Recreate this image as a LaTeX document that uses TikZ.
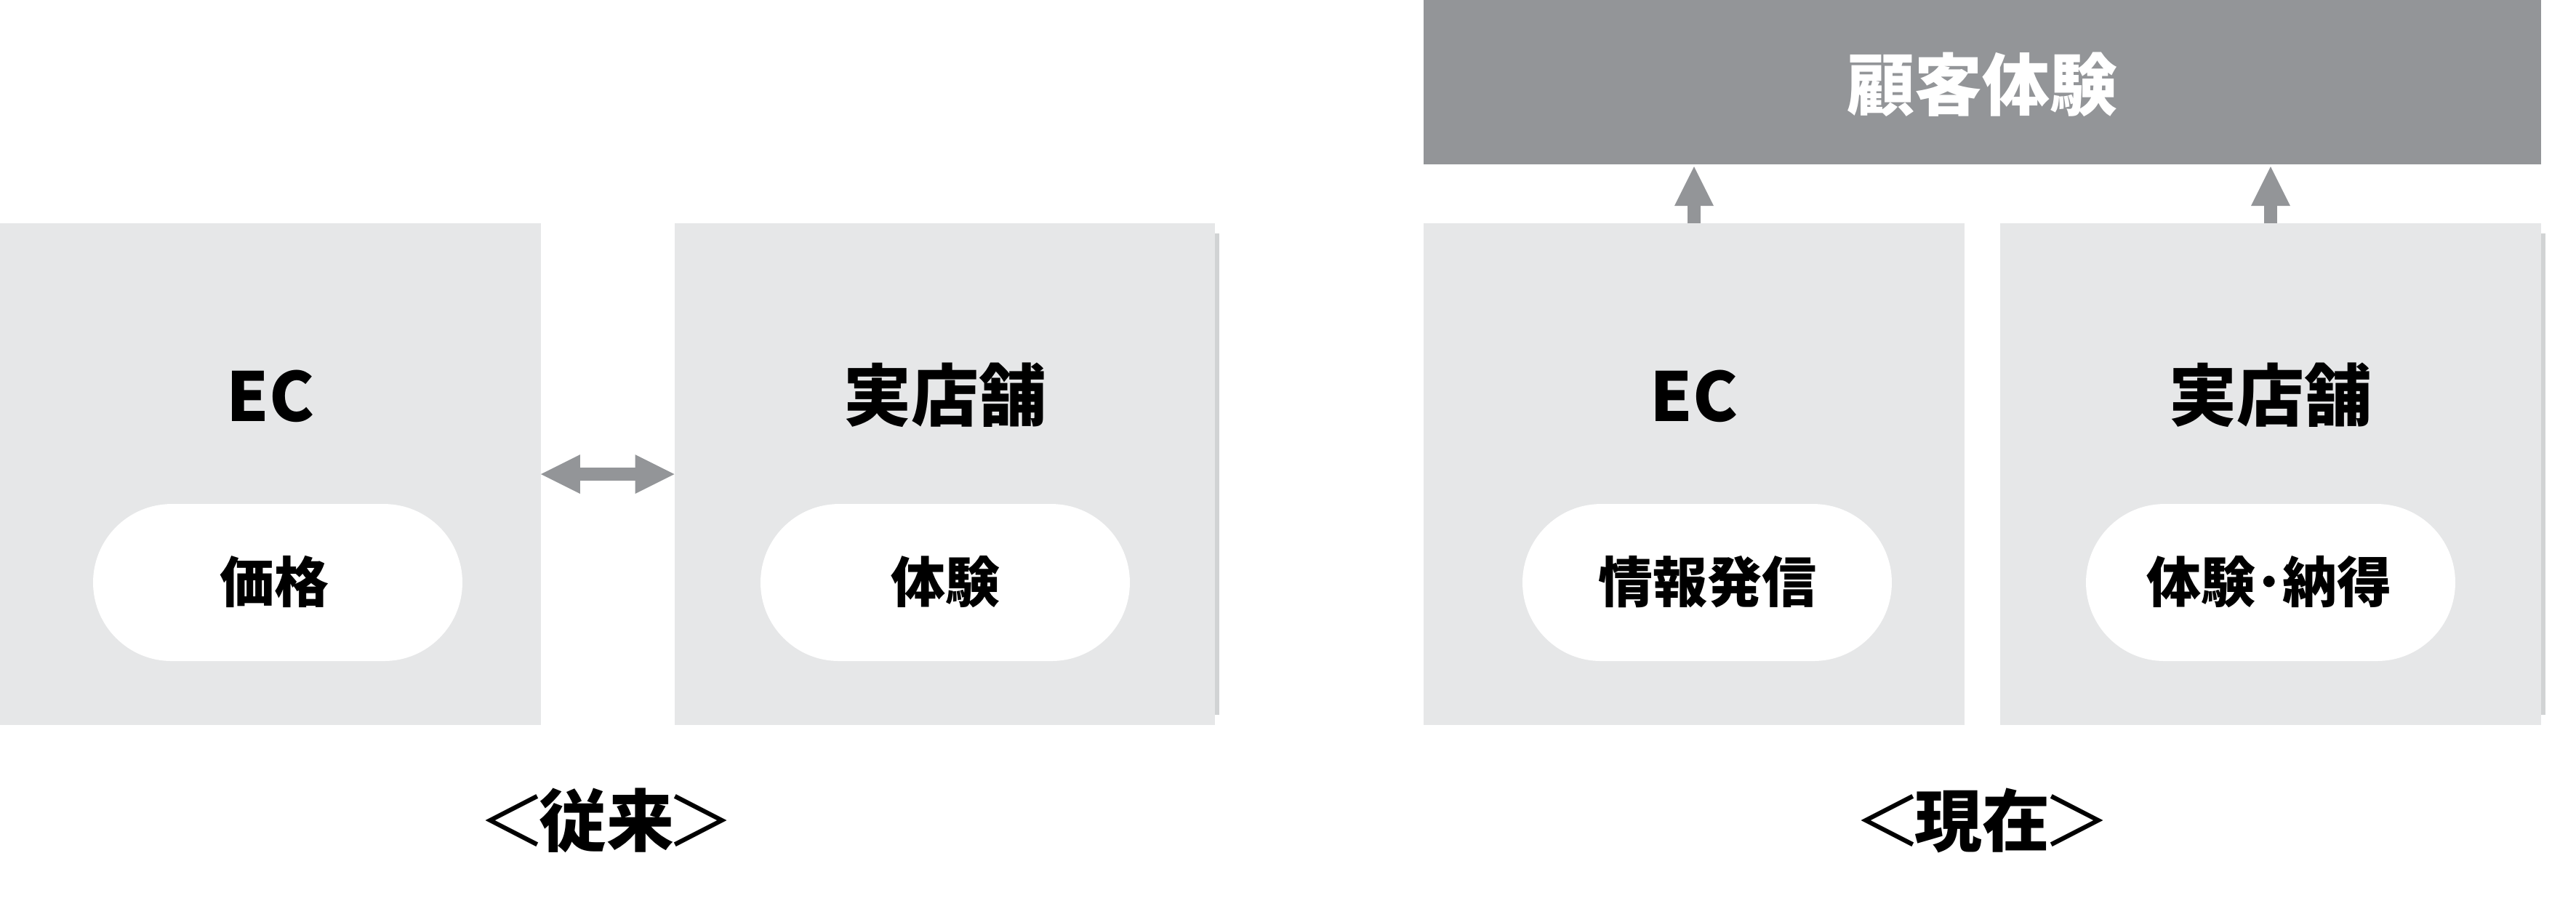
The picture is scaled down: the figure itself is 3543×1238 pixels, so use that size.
\documentclass[tikz,border=0pt]{standalone}
\usepackage{fontspec}
\setmainfont{Noto Sans CJK JP}
\usetikzlibrary{arrows.meta}
\definecolor{panelgray}{HTML}{E6E7E8}
\definecolor{accentgray}{HTML}{939598}
\definecolor{edgegray}{HTML}{D1D3D4}
\newcommand{\lbrk}{{\mdseries ＜}\kern-1.0pt}
\newcommand{\rbrk}{\kern-1.0pt{\mdseries ＞}}
\begin{document}
\begin{tikzpicture}[x=0.1pt,y=-0.1pt,
  panel/.style={fill=panelgray, draw=none, minimum width=74.4pt, minimum height=69pt, inner sep=0pt, outer sep=0pt},
  header/.style={fill=accentgray, draw=none, minimum width=153.7pt, minimum height=22.6pt, inner sep=0pt, outer sep=0pt},
  pill/.style={fill=white, draw=none, minimum width=50.8pt, minimum height=21.6pt, rounded corners=10.8pt, inner sep=0pt, outer sep=0pt},
  headtxt/.style={anchor=base, inner sep=0pt, font=\bfseries\fontsize{9.3pt}{11pt}\selectfont},
  pilltxt/.style={anchor=base, inner sep=0pt, font=\bfseries\fontsize{7.5pt}{9pt}\selectfont},
  captxt/.style={anchor=base, inner sep=0pt, font=\bfseries\fontsize{9.3pt}{11pt}\selectfont},
  conn/.style={draw=accentgray, line width=1.8pt, line cap=butt},
  tipb/.style={-{Triangle[length=5.4pt,width=5.4pt,line width=0pt]}},
]
\useasboundingbox (0,0) rectangle (3543,1238);

% ---------- left group (従来) ----------
\fill[edgegray] (1671,321) rectangle (1677,983);
\node[panel] (ecA) at (372,652) {};
\node[panel] (storeA) at (1299.5,652) {};
\node[headtxt] (ecAt) at (372,579) {EC};
\node[headtxt] (storeAt) at (1299.5,578) {実店舗};
\node[pill] (ecAp) at (382,801) {};
\node[pill] (storeAp) at (1300,801) {};
\node[pilltxt] (ecApt) at (377,828) {価格};
\node[pilltxt] (storeApt) at (1300,828) {体験};
\draw[conn, {Triangle[length=5.4pt,width=5.4pt,line width=0pt]}-{Triangle[length=5.4pt,width=5.4pt,line width=0pt]}] (ecA.east) -- (storeA.west);
\node[captxt] (capA) at (834,1163) {\lbrk 従来\rbrk};

% ---------- right group (現在) ----------
\node[header] (cx) at (2726.5,113) {};
\node[headtxt, text=white] (cxt) at (2726.5,151) {顧客体験};
\fill[edgegray] (3495,321) rectangle (3501,983);
\node[panel] (ecB) at (2330,652) {};
\node[panel] (storeB) at (3123,652) {};
\node[headtxt] (ecBt) at (2330,579) {EC};
\node[headtxt] (storeBt) at (3123,578) {実店舗};
\node[pill] (ecBp) at (2348,801) {};
\node[pill] (storeBp) at (3123,801) {};
\node[pilltxt] (ecBpt) at (2348,828) {情報発信};
\node[pilltxt] (storeBpt) at (3121,828) {体験･納得};
\draw[conn, tipb, shorten >=0.3pt] (ecB.north) -- (ecB.north |- cx.south);
\draw[conn, tipb, shorten >=0.3pt] (storeB.north) -- (storeB.north |- cx.south);
\node[captxt] (capB) at (2726,1163) {\lbrk 現在\rbrk};
\end{tikzpicture}
\end{document}
